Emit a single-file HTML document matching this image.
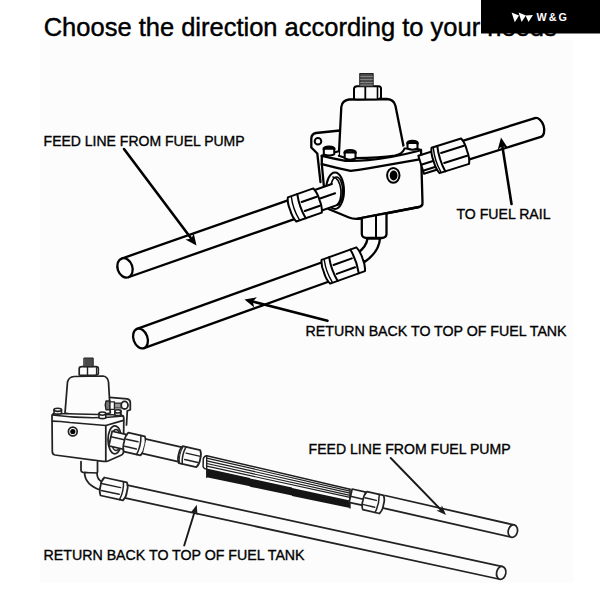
<!DOCTYPE html>
<html><head><meta charset="utf-8"><style>
html,body{margin:0;padding:0;background:#fff;}
body{width:600px;height:600px;overflow:hidden;position:relative;}
svg{position:absolute;left:0;top:0;}
text{font-family:"Liberation Sans",sans-serif;}
</style></head><body>
<svg width="600" height="600" viewBox="0 0 600 600">
<rect x="0" y="0" width="600" height="600" fill="#fff"/>
<rect x="40" y="40" width="533" height="543" fill="#fcfcfc"/>
<g fill="#000" stroke="#000" stroke-width="0.45">
<text x="43.7" y="35.6" font-size="26" textLength="513" lengthAdjust="spacingAndGlyphs">Choose the direction according to your needs</text>
</g>
<g fill="none" stroke="#000" stroke-width="2" stroke-linejoin="round" stroke-linecap="round">
<g stroke-width="2.3">
<path d="M340,130.5 L316,133 Q311.5,133.8 311.3,138.5 L311.3,147.5 L317.3,153.5 L320.5,182" fill="#fcfcfc"/>
<circle cx="318" cy="141.3" r="3.3" fill="#fcfcfc" stroke-width="2"/>
<path d="M338.8,157 L341.3,107 Q342,100.5 349,99.5 L387,99 Q394,99.5 395.5,106 L403.5,146 Q404,149 405,152 L340,160 Z" fill="#fcfcfc" stroke="none"/>
<path d="M338.8,156 L341.3,107 Q342,100.5 349,99.5 L387,99 Q394,99.5 395.5,106 L403.5,146" fill="none"/>
<path d="M354,98.5 L354,88.5 Q354.5,86.5 357,86.3 L378.5,86.3 Q381,86.5 381,88.5 L381,97.5 Q380,99 377,99.3 L357,99.5 Q354,99.5 354,98.5 Z" fill="#fcfcfc" stroke-width="2"/>
<line x1="365.3" y1="87" x2="365.3" y2="99" stroke-width="1.8"/>
<line x1="377.5" y1="87" x2="377.5" y2="98.5" stroke-width="1.6"/>
<rect x="359.8" y="73.5" width="13.3" height="13" fill="#4a4a4a" stroke="#222" stroke-width="1.2"/>
<line x1="360.5" y1="76.5" x2="372.5" y2="76.5" stroke="#8a8a8a" stroke-width="0.9"/>
<line x1="360.5" y1="79.5" x2="372.5" y2="79.5" stroke="#8a8a8a" stroke-width="0.9"/>
<line x1="360.5" y1="82.5" x2="372.5" y2="82.5" stroke="#8a8a8a" stroke-width="0.9"/>
<line x1="360.5" y1="85" x2="372.5" y2="85" stroke="#8a8a8a" stroke-width="0.9"/>
<path d="M321.8,155.5 L338.8,151.5 L338.8,157 L403.5,152 L403.5,146 L417,148.5 L421,150 L422.5,203 L419,207 L358,218.5 L349,217.5 L328.5,209 L325.6,204.5 L321.8,164 Z" fill="#fcfcfc" stroke="none"/>
<path d="M321.8,155.8 L321.8,164.2 L325.6,204.5 Q325.8,207.8 328.5,209 L349,217.5 Q354,219.5 360,218.5 L419,207 Q422.8,206 422.5,202.5 L421,150" fill="none"/>
<path d="M321.8,155.8 Q333,158.5 345.5,160.8 Q356,161.2 368,160.2 Q392,157.8 418,151 L421,150" fill="none"/>
<path d="M321.8,164.2 Q336,168 350.5,170.8 Q358,170 368,168.3 L421,159.2" fill="none"/>
<path d="M338.8,155.8 L345,157.8 M355,158 Q380,157.8 395,155.6 Q403,153.8 404.5,148.5 L408,148.5" fill="none" stroke-width="2.1"/>
<path d="M321.8,155.8 L324,155 M334,152.5 L338.8,151.3 M417.5,149 L421,150" fill="none" stroke-width="2.1"/>
<path d="M323.8,148.7 L323.8,154.3 Q329.025,156.60000000000002 334.25,154.3 L334.25,148.7 Z" fill="#fcfcfc" stroke-width="2"/>
<path d="M323.8,149.1 Q323.8,146.7 329.025,146.7 Q334.25,146.7 334.25,149.1" fill="none" stroke-width="2.6"/>
<path d="M344.7,152.4 L344.7,158.5 Q350.1,160.8 355.5,158.5 L355.5,152.4 Z" fill="#fcfcfc" stroke-width="2"/>
<path d="M344.7,152.8 Q344.7,150.4 350.1,150.4 Q355.5,150.4 355.5,152.8" fill="none" stroke-width="2.6"/>
<path d="M407.5,143 L407.5,148.5 Q412.5,150.8 417.5,148.5 L417.5,143 Z" fill="#fcfcfc" stroke-width="2"/>
<path d="M407.5,143.4 Q407.5,141 412.5,141 Q417.5,141 417.5,143.4" fill="none" stroke-width="2.6"/>
<ellipse cx="393.3" cy="175.3" rx="6.2" ry="7.4" fill="#fcfcfc" stroke-width="2"/>
<ellipse cx="393.6" cy="175.5" rx="3.9" ry="4.9" fill="#000" stroke="none"/>
<ellipse cx="335" cy="190.7" rx="9" ry="18.3" fill="#fcfcfc" stroke-width="2"/>
<ellipse cx="336.5" cy="191" rx="6.2" ry="14" fill="#fcfcfc" stroke-width="1.6"/>
<path d="M361.8,218.3 L361.8,234 Q362,237.5 366,238 L382,238 Q386.5,237.5 386.5,234 L386.5,213.4 Z" fill="#fcfcfc" stroke="none"/>
<path d="M361.8,218.3 L361.8,234 Q362,237.5 366,238 L382,238 Q386.5,237.5 386.5,234 L386.5,213.4" fill="none"/>
<path d="M358,218.6 L419,207" fill="none"/>
<line x1="376" y1="215.8" x2="376" y2="237.5" stroke-width="2"/>
<path d="M367.5,238.5 Q366.5,247 357,253.5 L364.5,262 Q379,252 380,238.5 Z" fill="#fcfcfc"/>
<g transform="translate(125.00,267.90) rotate(-19.290)" >
<rect x="0" y="-9.9" width="176" height="19.8" fill="#fcfcfc" stroke="none"/>
<line x1="0" y1="-9.9" x2="176" y2="-9.9"/>
<line x1="0" y1="9.9" x2="176" y2="9.9"/>
<ellipse cx="0" cy="0" rx="7.4" ry="9.9" fill="#fcfcfc"/>
<g stroke-width="2">
<rect x="204" y="-10.8" width="19" height="21.6" fill="#fcfcfc" stroke="none"/>
<path d="M204,-10.8 L223,-10.8 M204,10.8 L223,10.8" fill="none"/>
<line x1="204" y1="-1.08" x2="223" y2="-1.08" stroke-width="2"/>
<path d="M177,-12.8 L204,-12.8 Q206.5,-7.68 206,0 Q206.5,7.68 204,12.8 L177,12.8 Q174.5,7.68 175,0 Q174.5,-7.68 177,-12.8 Z" fill="#fcfcfc"/>
<path d="M187,-12.8 Q184.5,0 187,12.8" fill="none" stroke-width="2"/>
<path d="M180.4,-11.776000000000002 Q177.9,0 180.4,11.776000000000002" fill="none" stroke-width="1.4"/>
<line x1="188.5" y1="-3.84" x2="204.5" y2="-3.84" stroke-width="2"/>
<line x1="188.5" y1="5.760000000000001" x2="204.5" y2="5.760000000000001" stroke-width="2"/>
</g>
</g>
<path d="M333,177 Q339.5,178 341,190 Q341.5,201 337,205" fill="none" stroke-width="1.7"/>
<g transform="translate(140.50,338.50) rotate(-19.799)" >
<rect x="0" y="-10.2" width="196" height="20.4" fill="#fcfcfc" stroke="none"/>
<line x1="0" y1="-10.2" x2="196" y2="-10.2"/>
<line x1="0" y1="10.2" x2="196" y2="10.2"/>
<ellipse cx="0" cy="0" rx="7.0" ry="10.2" fill="#fcfcfc"/>
<g stroke-width="2">
<path d="M197,-12.6 L234,-12.6 Q236.5,-7.56 236,0 Q236.5,7.56 234,12.6 L197,12.6 Q194.5,7.56 195,0 Q194.5,-7.56 197,-12.6 Z" fill="#fcfcfc"/>
<path d="M205,-12.6 Q202.5,0 205,12.6" fill="none" stroke-width="2"/>
<path d="M199.5,-11.592 Q197.0,0 199.5,11.592" fill="none" stroke-width="1.4"/>
<path d="M227.5,-12.6 Q230.0,0 227.5,12.6" fill="none" stroke-width="2"/>
<line x1="206.5" y1="-3.78" x2="226.0" y2="-3.78" stroke-width="2"/>
<line x1="206.5" y1="5.67" x2="226.0" y2="5.67" stroke-width="2"/>
</g>
</g>
<g transform="translate(421.00,164.30) rotate(-17.484)" >
<g stroke-width="2">
<g transform="translate(0,0.5)">
<rect x="0" y="-9.4" width="15" height="18.8" fill="#fcfcfc"/>
<line x1="0" y1="0.0" x2="15" y2="0.0" stroke-width="2"/>
<line x1="0" y1="6.2" x2="15" y2="6.2" stroke-width="2"/>
</g>
</g>
<rect x="46" y="-9.85" width="76.5" height="19.7" fill="#fcfcfc" stroke="none"/>
<line x1="46" y1="-9.85" x2="122.5" y2="-9.85"/>
<line x1="46" y1="9.85" x2="122.5" y2="9.85"/>
<path d="M122.5,-9.85 A6,9.85 0 0 1 122.5,9.85" fill="#fcfcfc"/>
<g stroke-width="2" transform="translate(0,0.7)">
<path d="M15,-13.3 L46,-13.3 Q48.5,-7.98 48,0 Q48.5,7.98 46,13.3 L15,13.3 Q12.5,7.98 13,0 Q12.5,-7.98 15,-13.3 Z" fill="#fcfcfc"/>
<path d="M21,-13.3 Q18.5,0 21,13.3" fill="none" stroke-width="2"/>
<path d="M16.6,-12.236 Q14.100000000000001,0 16.6,12.236" fill="none" stroke-width="1.4"/>
<line x1="22.5" y1="-5.453" x2="46.5" y2="-5.453" stroke-width="2"/>
<line x1="22.5" y1="5.054" x2="46.5" y2="5.054" stroke-width="2"/>
</g>
</g>
<line x1="124.0" y1="149.0" x2="191.4" y2="238.7" stroke-width="2.6" stroke="#000"/>
<polygon points="196.5,245.5 185.4,239.4 191.4,238.7 193.7,233.2" fill="#000" stroke="none"/>
<line x1="511.5" y1="204.0" x2="502.3" y2="145.9" stroke-width="2.6" stroke="#000"/>
<polygon points="501.0,137.5 507.9,148.0 502.3,145.9 497.7,149.7" fill="#000" stroke="none"/>
<line x1="327.5" y1="320.8" x2="252.7" y2="301.6" stroke-width="2.6" stroke="#000"/>
<polygon points="244.5,299.5 256.9,297.3 252.7,301.6 254.3,307.4" fill="#000" stroke="none"/>
</g>
<g stroke="#222" stroke-width="1.75">
<path d="M109.6,397.4 L127,398.9 Q130.3,399.5 130.3,402.5 L130.3,409.8 L127.3,410.9 L126.5,425" fill="#fcfcfc"/>
<path d="M65,413 L67.5,382 Q69,376.8 74,376.5 L103,376 Q108,376.8 108.5,382 L110.3,413 Q88,419 65,413 Z" fill="#fcfcfc"/>
<path d="M79.2,375 L79.2,368.3 Q79.5,366.7 82,366.7 L96,366.7 Q98.3,366.9 98.3,368.5 L98.3,374 Q97,375.3 94,375.3 L82,375.3 Z" fill="#fcfcfc" stroke-width="1.7"/>
<line x1="87.5" y1="367.5" x2="87.5" y2="375" stroke-width="1.4"/>
<line x1="96.5" y1="367.5" x2="96.5" y2="375" stroke-width="1.2"/>
<rect x="84.2" y="358" width="9" height="8.7" fill="#4a4a4a" stroke="#222" stroke-width="1"/>
<path d="M106,401 L110,401 L110,409.8 L106,409.8 Q104.3,405.4 106,401 Z" fill="#777" stroke-width="1.4"/>
<rect x="110" y="401.8" width="4.5" height="7.5" fill="#fcfcfc" stroke-width="1.3"/>
<rect x="114.5" y="403.2" width="7" height="4.8" fill="#999" stroke-width="1.2"/>
<ellipse cx="124.6" cy="405.2" rx="3.4" ry="3.8" fill="#fcfcfc" stroke-width="1.8"/>
<rect x="115.5" y="410" width="5.5" height="4" fill="#fcfcfc" stroke-width="1.2"/>
<path d="M52,416 Q52,413.5 55,413.5 L121,415 Q124,415.5 123.8,418.5 L123.5,452 Q123.3,454.5 120.5,455.5 L108,461 Q106,461.8 103,461.3 L55,455 Q52.3,454.5 52.3,451.5 Z" fill="#fcfcfc"/>
<path d="M52.3,421 Q60,421 70,422.5 L105.8,425.5 L123.5,420.3" fill="none"/>
<path d="M52.3,415 Q90,420 123.5,416" fill="none" stroke-width="1.4"/>
<line x1="105.8" y1="425.5" x2="105.8" y2="461" />
<path d="M54,409.8 L54,413.5 Q57.75,414.7 61.5,413.5 L61.5,409.8" fill="#fcfcfc" stroke-width="1.6"/>
<ellipse cx="57.75" cy="409.8" rx="3.75" ry="1.6" fill="#fcfcfc" stroke-width="1.6"/>
<path d="M99,413.6 L99,418 Q102.4,419.2 105.8,418 L105.8,413.6" fill="#fcfcfc" stroke-width="1.6"/>
<ellipse cx="102.4" cy="413.6" rx="3.3999999999999986" ry="1.6" fill="#fcfcfc" stroke-width="1.6"/>
<path d="M114.8,411.40000000000003 L114.8,415 Q117.8,416.2 120.8,415 L120.8,411.40000000000003" fill="#fcfcfc" stroke-width="1.6"/>
<ellipse cx="117.8" cy="411.40000000000003" rx="3.0" ry="1.6" fill="#fcfcfc" stroke-width="1.6"/>
<circle cx="72.8" cy="431.5" r="4.4" fill="#fcfcfc" stroke-width="1.7"/>
<circle cx="72.8" cy="431.5" r="2.6" fill="#000" stroke="none"/>
<ellipse cx="114.8" cy="439.8" rx="6.8" ry="14" fill="#fcfcfc"/>
<ellipse cx="116" cy="440" rx="4.6" ry="10.5" fill="#fcfcfc" stroke-width="1.4"/>
<path d="M81,461.5 L81,470.5 Q81,472 83,472.3 L96,473.5 Q97.5,473.5 97.5,472 L97.5,461.5" fill="#fcfcfc"/>
<path d="M84.5,472.5 Q85,485 100.5,490 L101.5,481.5 Q97,479 97,473 Z" fill="#fcfcfc"/>
<g transform="translate(110.50,438.57) rotate(12.844)" >
<rect x="0" y="-7.5" width="15" height="15.0" fill="#fcfcfc"/>
<line x1="0" y1="-1.875" x2="15" y2="-1.875" stroke-width="1.5"/>
<path d="M16,-9.8 L33,-9.8 Q35.5,-5.88 35,0 Q35.5,5.88 33,9.8 L16,9.8 Q13.5,5.88 14,0 Q13.5,-5.88 16,-9.8 Z" fill="#fcfcfc"/>
<path d="M29,-9.8 Q31.5,0 29,9.8" fill="none" stroke-width="1.5"/>
<line x1="15.5" y1="-2.94" x2="27.5" y2="-2.94" stroke-width="1.5"/>
<line x1="15.5" y1="4.41" x2="27.5" y2="4.41" stroke-width="1.5"/>
<rect x="35" y="-7.4" width="36" height="14.8" fill="#fcfcfc" stroke="none"/>
<line x1="35" y1="-7.4" x2="71" y2="-7.4"/>
<line x1="35" y1="7.4" x2="71" y2="7.4"/>
<path d="M72,-8.7 L90,-8.7 Q92.5,-5.22 92,0 Q92.5,5.22 90,8.7 L72,8.7 Q69.5,5.22 70,0 Q69.5,-5.22 72,-8.7 Z" fill="#fcfcfc"/>
<path d="M75.5,-8.7 Q73.0,0 75.5,8.7" fill="none" stroke-width="1.5"/>
<path d="M72.475,-8.004 Q69.975,0 72.475,8.004" fill="none" stroke-width="1.0499999999999998"/>
<line x1="77.0" y1="-2.61" x2="90.5" y2="-2.61" stroke-width="1.5"/>
<line x1="77.0" y1="3.9149999999999996" x2="90.5" y2="3.9149999999999996" stroke-width="1.5"/>
</g>
<path d="M206.7,455.7 L350,489.3 L350,507.0 L206.7,477.2 Z" fill="#fcfcfc" stroke="none"/>
<polygon points="206.7,468.6 250.0,477.9 250.0,478.4 292.0,487.4 292.0,487.9 350.0,500.4 350.0,508.0 292.0,495.9 292.0,495.4 250.0,486.7 250.0,486.2 206.7,477.2" fill="#151515" stroke="none"/>
<line x1="206.7" y1="455.7" x2="350" y2="489.3" stroke="#1e1e1e" stroke-width="1.5"/>
<line x1="206.7" y1="458.1" x2="350" y2="491.1" stroke="#1e1e1e" stroke-width="1.2"/>
<line x1="206.7" y1="460.8" x2="350" y2="493.2" stroke="#1e1e1e" stroke-width="1.2"/>
<line x1="206.7" y1="463.5" x2="350" y2="495.3" stroke="#1e1e1e" stroke-width="1.2"/>
<line x1="206.7" y1="466.2" x2="350" y2="497.4" stroke="#1e1e1e" stroke-width="1.2"/>
<path d="M206.7,455.7 Q204.2,456.0 203.29999999999998,458.7 L203.1,466.7 Q203.89999999999998,469.0 206.7,469.2" fill="#fcfcfc" stroke-width="1.5"/>
<line x1="206.7" y1="455.7" x2="206.7" y2="477.2" stroke-width="1.4"/>
<line x1="350" y1="489.3" x2="350" y2="508.0" stroke-width="1.4"/>
<g transform="translate(351.00,494.20) rotate(12.844)" >
<rect x="33.5" y="-6.3" width="132.5" height="12.6" fill="#fcfcfc" stroke="none"/>
<line x1="33.5" y1="-6.3" x2="166" y2="-6.3"/>
<line x1="33.5" y1="6.3" x2="166" y2="6.3"/>
<ellipse cx="166" cy="0" rx="4.6" ry="6.3" fill="#fcfcfc"/>
<g transform="translate(0,1.5)">
<rect x="0" y="-6.8" width="14" height="13.6" fill="#fcfcfc"/>
<line x1="0" y1="0.68" x2="14" y2="0.68" stroke-width="1.5"/>
</g>
<g transform="translate(0,3.2)">
<path d="M15,-9.3 L32,-9.3 Q34.5,-5.58 34,0 Q34.5,5.58 32,9.3 L15,9.3 Q12.5,5.58 13,0 Q12.5,-5.58 15,-9.3 Z" fill="#fcfcfc"/>
<path d="M27.5,-9.3 Q30.0,0 27.5,9.3" fill="none" stroke-width="1.5"/>
<line x1="14.5" y1="-2.79" x2="26.0" y2="-2.79" stroke-width="1.5"/>
<line x1="14.5" y1="4.1850000000000005" x2="26.0" y2="4.1850000000000005" stroke-width="1.5"/>
</g>
</g>
<g transform="translate(100.50,486.07) rotate(12.227)" >
<rect x="26" y="-6.5" width="384" height="13.0" fill="#fcfcfc" stroke="none"/>
<line x1="26" y1="-6.5" x2="410" y2="-6.5"/>
<line x1="26" y1="6.5" x2="410" y2="6.5"/>
<ellipse cx="410" cy="0" rx="4.6" ry="6.5" fill="#fcfcfc"/>
<path d="M2,-9.2 L25,-9.2 Q27.5,-5.52 27,0 Q27.5,5.52 25,9.2 L2,9.2 Q-0.5,5.52 0,0 Q-0.5,-5.52 2,-9.2 Z" fill="#fcfcfc"/>
<path d="M21.5,-9.2 Q24.0,0 21.5,9.2" fill="none" stroke-width="1.5"/>
<line x1="1.5" y1="-2.76" x2="20.0" y2="-2.76" stroke-width="1.5"/>
<line x1="1.5" y1="4.14" x2="20.0" y2="4.14" stroke-width="1.5"/>
</g>
<line x1="390.7" y1="458.0" x2="441.1" y2="510.0" stroke-width="1.9" stroke="#1a1a1a"/>
<polygon points="446.0,515.0 436.3,510.5 441.1,510.0 441.8,505.2" fill="#1a1a1a" stroke="none"/>
<line x1="184.2" y1="545.5" x2="194.7" y2="511.5" stroke-width="1.9" stroke="#1a1a1a"/>
<polygon points="196.8,504.8 197.5,515.5 194.7,511.5 190.2,513.2" fill="#1a1a1a" stroke="none"/>
</g>
</g>
<g fill="#000" stroke="#000" stroke-width="0.35">
<text x="43.6" y="145.8" font-size="14" textLength="201" lengthAdjust="spacingAndGlyphs">FEED LINE FROM FUEL PUMP</text>
<text x="456.5" y="218.6" font-size="14" textLength="94" lengthAdjust="spacingAndGlyphs">TO FUEL RAIL</text>
<text x="305.6" y="336.3" font-size="14" textLength="261" lengthAdjust="spacingAndGlyphs">RETURN BACK TO TOP OF FUEL TANK</text>
<text x="308.6" y="454" font-size="14" textLength="202" lengthAdjust="spacingAndGlyphs">FEED LINE FROM FUEL PUMP</text>
<text x="43.6" y="560" font-size="14" textLength="261" lengthAdjust="spacingAndGlyphs">RETURN BACK TO TOP OF FUEL TANK</text>
</g>
<rect x="481" y="0" width="119" height="33.5" fill="#000"/>
<g fill="#fff">
<polygon points="511.6,12.6 519,15.6 514.8,22.2"/>
<polygon points="518.6,12.6 525.9,15.6 521.6,21.9"/>
<polygon points="525.6,15.4 533,15.1 528.5,21.9"/>
</g>
<text x="536.5" y="21.2" font-size="10.8" font-weight="bold" fill="#fff" letter-spacing="2.0">W&amp;G</text>
</svg>
</body></html>
